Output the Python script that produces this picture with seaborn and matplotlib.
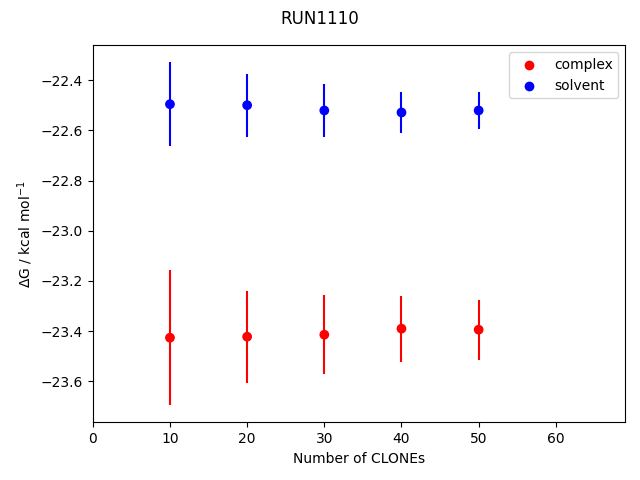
import numpy as np
import pandas as pd
import matplotlib
matplotlib.use("Agg")
import matplotlib.pyplot as plt
import seaborn as sns

# Free energy estimates vs number of CLONEs
n_clones = [10, 20, 30, 40, 50]
complex_dg = [-23.426, -23.422, -23.414, -23.390, -23.394]
complex_err = [0.269, 0.183, 0.157, 0.131, 0.119]
solvent_dg = [-22.496, -22.500, -22.521, -22.529, -22.521]
solvent_err = [0.167, 0.125, 0.107, 0.081, 0.075]


def main():
    df = pd.DataFrame({
        "clones": n_clones * 2,
        "dg": complex_dg + solvent_dg,
        "err": complex_err + solvent_err,
        "phase": ["complex"] * len(n_clones) + ["solvent"] * len(n_clones),
    })
    colors = {"complex": "red", "solvent": "blue"}

    fig, ax = plt.subplots(figsize=(6.4, 4.8), dpi=100)
    for phase, sub in df.groupby("phase"):
        ax.errorbar(sub["clones"], sub["dg"], yerr=sub["err"], fmt="none",
                    ecolor=colors[phase], elinewidth=1.5)
    sns.scatterplot(data=df, x="clones", y="dg", hue="phase", palette=colors,
                    s=36, edgecolor="face", linewidth=1, ax=ax, zorder=3,
                    legend=False)
    # scatter-style legend handles, like plain plt.scatter
    for phase in colors:
        ax.scatter([], [], c=colors[phase], label=phase)

    ax.set_xlim(0, 69)
    ax.set_xlabel("Number of CLONEs")
    ax.set_ylabel(r"$\Delta$G / kcal mol$^{-1}$")
    ax.legend(loc="upper right")
    fig.suptitle("RUN1110")
    fig.subplots_adjust(left=0.145, right=0.977, top=0.906, bottom=0.12)
    fig.savefig("out.png")
    plt.close(fig)


if __name__ == "__main__":
    main()
